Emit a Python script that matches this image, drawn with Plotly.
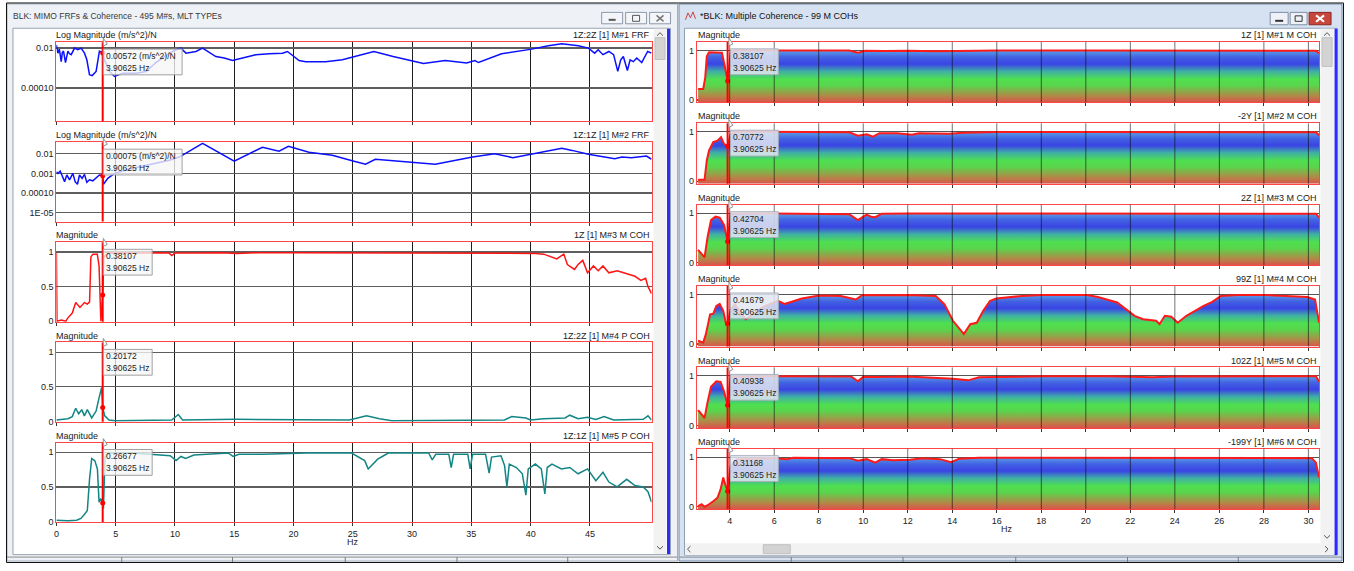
import plotly.graph_objects as go

# ---------------- data ----------------
CURSOR_HZ = 3.90625
LEFT_X_RANGE = [0.0, 50.2]
RIGHT_X_RANGE = [2.52, 30.48]
LEFT_X_TICKS = [0, 5, 10, 15, 20, 25, 30, 35, 40, 45]
RIGHT_X_TICKS = [4, 6, 8, 10, 12, 14, 16, 18, 20, 22, 24, 26, 28, 30]

# (Hz, (m/s^2)/N)
FRF_1Z2Z = [(0.00, 0.0146), (0.13, 0.0056), (0.25, 0.0089), (0.41, 0.0021), (0.50, 0.0060), (0.60, 0.0071),
            (0.77, 0.0019), (0.97, 0.0071), (1.10, 0.0052), (1.25, 0.0047), (1.53, 0.0100), (1.81, 0.0083),
            (2.09, 0.0100), (2.37, 0.0056), (2.57, 0.0026), (2.79, 0.00047), (3.02, 0.00042), (3.35, 0.00068),
            (3.63, 0.0071), (3.906, 0.00572), (4.05, 0.0026), (4.48, 0.00068), (4.90, 0.00038), (5.60, 0.00056),
            (6.72, 0.00056), (7.56, 0.00068), (8.40, 0.0019), (9.53, 0.0056), (10.09, 0.0083), (10.50, 0.0100),
            (10.93, 0.0056), (11.77, 0.0068), (12.33, 0.0100), (12.75, 0.0068), (13.45, 0.0038), (14.16, 0.0032),
            (14.86, 0.0024), (15.70, 0.0032), (16.82, 0.0047), (17.94, 0.0052), (19.07, 0.0056), (19.49, 0.0068),
            (20.05, 0.0038), (20.47, 0.0024), (21.03, 0.0021), (22.71, 0.0021), (24.12, 0.0026), (25.10, 0.0038),
            (26.78, 0.0068), (28.40, 0.0038), (30.10, 0.0021), (30.96, 0.0017), (32.80, 0.0024), (34.60, 0.0018),
            (35.30, 0.0024), (35.60, 0.0019), (37.55, 0.0052), (40.10, 0.0089), (41.50, 0.0132), (42.63, 0.0166),
            (44.03, 0.0132), (44.87, 0.0100), (45.40, 0.0056), (45.70, 0.0083), (46.10, 0.0047), (46.60, 0.0068),
            (47.00, 0.0047), (47.35, 0.00068), (47.60, 0.0026), (47.82, 0.0038), (48.16, 0.00076), (48.39, 0.0026),
            (48.66, 0.0021), (48.95, 0.0032), (49.37, 0.0019), (49.87, 0.0068), (50.20, 0.0056)]

FRF_1Z1Z = [(0.00, 0.00120), (0.13, 0.00100), (0.32, 0.00132), (0.49, 0.00068), (0.69, 0.00038), (0.88, 0.00083),
            (1.11, 0.00047), (1.39, 0.00100), (1.58, 0.00038), (1.78, 0.00028), (1.95, 0.00083), (2.17, 0.00056),
            (2.37, 0.00089), (2.57, 0.00035), (2.79, 0.00047), (3.07, 0.00042), (3.35, 0.00060), (3.63, 0.00083),
            (3.906, 0.00075), (3.97, 0.00028), (4.34, 0.00056), (4.90, 0.00100), (6.16, 0.00166), (8.12, 0.00316),
            (9.53, 0.00468), (10.37, 0.00676), (12.33, 0.0339), (15.00, 0.00417), (17.38, 0.0214), (18.78, 0.0135),
            (19.57, 0.0240), (21.30, 0.0120), (23.27, 0.00832), (25.10, 0.00417), (26.08, 0.00295), (26.90, 0.00525),
            (30.10, 0.00355), (31.96, 0.00295), (35.10, 0.00676), (36.97, 0.0100), (38.50, 0.00631), (40.10, 0.0100),
            (42.63, 0.0191), (43.50, 0.0148), (44.87, 0.00933), (47.10, 0.00562), (47.70, 0.00676), (48.50, 0.00631),
            (49.77, 0.00759), (50.20, 0.00525)]

# (Hz, magnitude)
MCOH_1Z_LEFT = [(0.00, 0.99), (0.05, 0.0), (0.42, 0.02), (0.79, 0.0), (0.97, 0.05), (1.34, 0.12), (1.63, 0.27),
                (1.99, 0.20), (2.36, 0.27), (2.61, 0.25), (2.80, 0.28), (2.91, 0.93), (3.09, 0.97), (3.45, 0.97),
                (3.60, 0.80), (3.75, 0.0), (3.906, 0.38107), (4.00, 0.93), (4.44, 0.99), (6.0, 0.985), (8.0, 0.99),
                (9.5, 0.985), (9.73, 0.95), (10.0, 0.985), (12.0, 0.985), (14.0, 0.99), (15.2, 0.98), (17.0, 0.99),
                (20.0, 0.99), (25.0, 0.99), (27.5, 0.98), (30.0, 0.985), (32.0, 0.98), (34.0, 0.985), (36.0, 0.98),
                (38.0, 0.985), (40.4, 0.98), (41.1, 0.97), (42.2, 0.90), (42.8, 0.97), (43.1, 0.82), (43.7, 0.75),
                (44.0, 0.82), (44.4, 0.88), (44.8, 0.70), (45.3, 0.80), (45.7, 0.73), (46.1, 0.80), (46.6, 0.70),
                (47.3, 0.73), (48.1, 0.69), (48.8, 0.65), (49.3, 0.59), (49.7, 0.62), (49.9, 0.50), (50.2, 0.40)]

PCOH_1Z2Z = [(0.00, 0.02), (0.97, 0.04), (1.34, 0.07), (1.63, 0.19), (1.88, 0.11), (2.14, 0.17), (2.36, 0.08),
             (2.61, 0.17), (2.98, 0.05), (3.35, 0.15), (3.60, 0.34), (3.82, 0.49), (3.906, 0.20172), (4.08, 0.08),
             (4.44, 0.02), (4.99, 0.01), (9.73, 0.02), (10.28, 0.10), (10.64, 0.02), (15.2, 0.03), (24.7, 0.02),
             (26.16, 0.08), (27.25, 0.04), (28.3, 0.01), (37.8, 0.02), (38.4, 0.07), (39.6, 0.05), (40.0, 0.02),
             (41.1, 0.04), (42.9, 0.05), (43.3, 0.09), (44.0, 0.04), (44.8, 0.06), (45.5, 0.03), (46.2, 0.07),
             (47.0, 0.02), (49.5, 0.03), (49.9, 0.08), (50.2, 0.02)]

PCOH_1Z1Z = [(0.00, 0.02), (0.97, 0.01), (1.70, 0.02), (2.07, 0.045), (2.36, 0.10), (2.61, 0.16), (2.80, 0.62),
             (2.98, 0.91), (3.24, 0.88), (3.46, 0.76), (3.60, 0.28), (3.75, 0.33), (3.906, 0.26677), (3.97, 0.19),
             (4.10, 0.93), (4.44, 0.99), (6.45, 0.99), (8.6, 0.97), (9.6, 0.95), (10.1, 0.88), (10.5, 0.94),
             (10.9, 0.91), (11.6, 0.96), (12.7, 0.97), (14.5, 0.99), (14.9, 0.94), (15.4, 0.97), (17.4, 0.97),
             (21.1, 0.99), (24.9, 0.99), (25.4, 0.94), (26.0, 0.88), (26.3, 0.76), (26.6, 0.81), (27.1, 0.90),
             (27.6, 0.95), (28.0, 0.99), (31.4, 0.99), (31.7, 0.89), (32.0, 0.97), (33.1, 0.97), (33.3, 0.78),
             (33.5, 0.97), (34.7, 0.97), (34.9, 0.76), (35.1, 0.97), (36.2, 0.97), (36.5, 0.70), (36.7, 0.93),
             (37.5, 0.95), (37.8, 0.81), (38.0, 0.50), (38.2, 0.83), (38.8, 0.78), (39.3, 0.69), (39.6, 0.38),
             (39.8, 0.76), (40.4, 0.83), (40.9, 0.76), (41.2, 0.40), (41.4, 0.78), (41.8, 0.83), (42.6, 0.76),
             (43.3, 0.78), (44.0, 0.69), (44.8, 0.76), (45.5, 0.59), (46.1, 0.71), (46.6, 0.57), (47.3, 0.50),
             (48.1, 0.61), (48.8, 0.52), (49.5, 0.50), (49.9, 0.43), (50.2, 0.28)]

MCOH_1Z = [(2.58, 0.22), (2.81, 0.22), (2.90, 0.45), (2.97, 0.88), (3.07, 0.96), (3.36, 0.96), (3.65, 0.95),
           (3.78, 0.68), (3.906, 0.38107), (4.04, 0.95), (4.23, 1.0), (6.0, 0.995), (8.0, 0.995), (9.37, 0.995),
           (9.76, 0.95), (10.1, 0.99), (11.0, 0.985), (12.0, 0.99), (13.26, 0.98), (14.0, 0.985), (16.0, 0.995),
           (20.0, 0.995), (24.0, 0.995), (28.0, 0.995), (30.34, 0.99), (30.48, 0.94)]

MCOH_M2Y = [(2.58, 0.03), (2.87, 0.03), (2.97, 0.42), (3.07, 0.62), (3.26, 0.79), (3.45, 0.82), (3.61, 0.89),
            (3.75, 0.75), (3.906, 0.70772), (4.04, 0.95), (4.33, 1.0), (6.0, 0.995), (9.37, 0.99), (9.76, 0.92),
            (10.15, 0.95), (10.44, 0.90), (10.73, 0.97), (11.5, 0.97), (12.19, 0.94), (12.5, 0.97), (13.84, 0.96),
            (14.5, 0.98), (16.0, 0.995), (20.0, 0.995), (25.0, 0.995), (30.34, 0.99), (30.48, 0.93)]

MCOH_2Z = [(2.58, 0.26), (2.74, 0.17), (2.87, 0.11), (3.01, 0.53), (3.16, 0.86), (3.36, 0.93), (3.55, 0.91),
           (3.75, 0.76), (3.906, 0.42704), (4.04, 0.99), (6.0, 0.995), (9.37, 0.98), (9.76, 0.86), (10.15, 0.97),
           (10.35, 0.93), (10.54, 0.92), (10.83, 0.99), (12.0, 0.995), (16.0, 0.995), (20.0, 0.99), (22.0, 0.985),
           (24.0, 0.995), (28.0, 0.995), (30.34, 0.99), (30.48, 0.91)]

MCOH_99Z = [(2.58, 0.07), (2.81, 0.03), (2.93, 0.20), (3.12, 0.60), (3.26, 0.61), (3.40, 0.77), (3.55, 0.81),
            (3.71, 0.67), (3.84, 0.40), (3.906, 0.41679), (4.04, 0.70), (4.23, 0.80), (4.72, 0.50), (5.5, 0.75),
            (6.17, 0.87), (6.46, 0.81), (6.75, 0.85), (7.24, 0.92), (8.02, 0.98), (8.99, 0.97), (9.67, 0.90),
            (9.96, 0.99), (11.0, 0.985), (12.0, 0.99), (13.26, 0.97), (13.65, 0.80), (14.03, 0.47), (14.32, 0.30),
            (14.52, 0.20), (14.81, 0.40), (15.10, 0.43), (15.39, 0.67), (15.69, 0.87), (15.97, 0.92), (17.14, 0.97),
            (18.0, 0.99), (20.05, 0.99), (20.54, 0.95), (21.41, 0.84), (21.9, 0.67), (22.19, 0.57), (22.57, 0.50),
            (23.16, 0.47), (23.31, 0.40), (23.55, 0.57), (23.84, 0.55), (24.13, 0.43), (24.52, 0.57), (24.9, 0.67),
            (25.29, 0.77), (25.68, 0.85), (26.07, 0.97), (26.85, 0.99), (28.0, 0.99), (29.95, 0.95), (30.3, 0.90),
            (30.48, 0.43)]

MCOH_102Z = [(2.58, 0.31), (2.74, 0.21), (2.87, 0.15), (3.01, 0.48), (3.16, 0.78), (3.40, 0.89), (3.59, 0.88),
             (3.75, 0.68), (3.906, 0.40938), (4.04, 0.98), (6.0, 0.99), (9.47, 0.985), (9.76, 0.89), (10.0, 0.98),
             (10.54, 0.975), (12.0, 0.985), (13.65, 0.95), (14.03, 0.94), (14.71, 0.91), (15.2, 0.97), (18.0, 0.99),
             (21.02, 0.99), (23.0, 0.97), (24.0, 0.985), (28.0, 0.99), (30.34, 0.99), (30.48, 0.88)]

MCOH_M199Y = [(2.58, 0.01), (2.74, 0.05), (2.87, 0.0), (3.01, 0.03), (3.26, 0.11), (3.45, 0.18), (3.59, 0.35),
              (3.71, 0.59), (3.80, 0.45), (3.906, 0.31168), (4.04, 0.82), (4.33, 0.96), (6.07, 0.98), (6.56, 0.96),
              (6.85, 0.99), (9.37, 0.98), (9.76, 0.93), (10.15, 0.96), (10.54, 0.89), (10.83, 0.96), (11.32, 0.94),
              (12.09, 0.95), (12.68, 0.98), (13.45, 0.96), (13.94, 0.90), (14.32, 0.97), (15.2, 0.99), (20.0, 0.99),
              (25.0, 0.99), (30.15, 0.98), (30.34, 0.89), (30.48, 0.59)]

LEFT_NAMES = ["Log Magnitude (m/s^2)/N", "Log Magnitude (m/s^2)/N", "Magnitude", "Magnitude", "Magnitude"]
LEFT_IDS = ["1Z:2Z [1] M#1 FRF", "1Z:1Z [1] M#2 FRF", "1Z [1] M#3 M COH", "1Z:2Z [1] M#4 P COH", "1Z:1Z [1] M#5 P COH"]
LEFT_CURSOR_VALUES = [0.00572, 0.00075, 0.38107, 0.20172, 0.26677]
LEFT_CURSOR_TEXT = ["0.00572 (m/s^2)/N", "0.00075 (m/s^2)/N", "0.38107", "0.20172", "0.26677"]
LOG1_TICKS, LOG1_TEXT = [0.01, 0.0001], ["0.01", "0.00010"]
LOG2_TICKS, LOG2_TEXT = [0.01, 0.001, 0.0001, 0.00001], ["0.01", "0.001", "0.00010", "1E-05"]
COH_TICKS, COH_TEXT = [0, 0.5, 1], ["0", "0.5", "1"]
RIGHT_IDS = ["1Z [1] M#1 M COH", "-2Y [1] M#2 M COH", "2Z [1] M#3 M COH", "99Z [1] M#4 M COH",
             "102Z [1] M#5 M COH", "-199Y [1] M#6 M COH"]
RIGHT_CURSOR_VALUES = [0.38107, 0.70772, 0.42704, 0.41679, 0.40938, 0.31168]
RIGHT_TICKS, RIGHT_TEXT = [0, 1], ["0", "1"]

# ---------------- styling / geometry ----------------
W, H = 1354, 571
FONT = "Liberation Sans"
BOX_RED = "#ff4646"
BLUE = "#0a10ff"
RED = "#ff1414"
TEAL = "#138585"

LEFT_X0, LEFT_X1 = 53.5, 650.0
RIGHT_X0, RIGHT_X1 = 695.3, 1319.0
LEFT_TOPS = [42.5, 143.5, 244.5, 345.5, 446.5]
LEFT_H = 80
RIGHT_TOPS = [42.3, 124.4, 206.6, 288.6, 370.7, 452.7]
RIGHT_H = 61
RIGHT_YMIN = -0.05


def X(p):
    return p / W


def Y(p):
    return 1 - p / H


def suf(i):
    return "" if i == 1 else str(i)


shapes, annotations = [], []


def rect(x0, y0, x1, y1, fill=None, line=None, lw=1, layer="below"):
    d = dict(type="rect", xref="paper", yref="paper", x0=X(x0), x1=X(x1), y0=Y(y1), y1=Y(y0), layer=layer,
             line=dict(color=line if line else "rgba(0,0,0,0)", width=lw if line else 0))
    if fill:
        d["fillcolor"] = fill
    shapes.append(d)


def seg(x0, y0, x1, y1, color, lw=1, layer="below"):
    shapes.append(dict(type="line", xref="paper", yref="paper", x0=X(x0), x1=X(x1), y0=Y(y0), y1=Y(y1),
                       layer=layer, line=dict(color=color, width=lw)))


def path(points, color, lw=1, layer="below", fill=None, close=False):
    p = "M " + " L ".join(f"{X(a):.5f},{Y(b):.5f}" for a, b in points) + (" Z" if close else "")
    d = dict(type="path", xref="paper", yref="paper", path=p, layer=layer, line=dict(color=color, width=lw))
    if fill:
        d["fillcolor"] = fill
    shapes.append(d)


def text(x, y, s, size=9, color="#222", anchor="left"):
    if anchor == "left":
        x -= 3
    annotations.append(dict(xref="paper", yref="paper", x=X(x), y=Y(y), text=s, showarrow=False,
                            xanchor=anchor, yanchor="middle", borderpad=0,
                            font=dict(family=FONT, size=size, color=color)))


# ---------------- window chrome ----------------
rect(4, 4, 676, 566, fill="#eef1f6", line="#a3adbb")
rect(10, 28.5, 669, 559.5, fill="white", line="#9aa3ae")
rect(677.5, 4, 1342, 566, fill="#d6e2f1", line="#6f85a3")
rect(683, 28.5, 1337, 560, fill="white", line="#8fa0b5")
shapes.append(dict(type="rect", xref="paper", yref="paper", x0=X(3.5), x1=X(1343.5), y0=Y(567.5), y1=Y(3),
                   layer="below", line=dict(color="#111", width=1)))
seg(4, 562, 676, 562, "#8a8a8a")
seg(678, 562, 1342, 562, "#8a8a8a")
for sx in [119, 230, 343, 455, 566, 790, 902, 1015, 1127, 1238]:
    seg(sx, 562, sx, 567, "#7a7a7a")

text(12, 16, "BLK: MIMO FRFs & Coherence - 495 M#s, MLT TYPEs", size=8.5, color="#3a3a3a")
text(701, 16, "*BLK: Multiple Coherence - 99 M COHs", size=9, color="#111")
path([(684, 20), (686.5, 13), (689, 18), (691.5, 12), (694, 19)], "#d04040", 1)

for bx0, bx1 in [(600, 621), (624, 645), (648, 669)]:
    rect(bx0, 12.5, bx1, 24, fill="#f3f5f8", line="#8d99aa")
seg(607, 20, 614, 20, "#555", 2)
rect(631, 15.5, 638, 21.5, line="#555", lw=1)
seg(655, 15.5, 662, 21.5, "#777", 1.5)
seg(655, 21.5, 662, 15.5, "#777", 1.5)
rect(1270, 12.5, 1288, 25, fill="#eef2f8", line="#7d8ea6")
rect(1290, 12.5, 1307, 25, fill="#eef2f8", line="#7d8ea6")
rect(1309, 12.5, 1331, 25, fill="#c8473d", line="#8a2a22")
seg(1275, 21, 1283, 21, "#333", 2)
rect(1295, 16, 1302, 21.5, line="#333", lw=1)
seg(1316, 15.5, 1324, 22, "white", 2)
seg(1316, 22, 1324, 15.5, "white", 2)

# scrollbars
rect(652, 29, 665, 559, fill="#f2f2f2")
rect(653.5, 38, 663.5, 60, fill="#d3d3d3", line="#c0c0c0")
path([(655.5, 36), (658.5, 33), (661.5, 36)], "#555", 1)
path([(655.5, 551), (658.5, 554), (661.5, 551)], "#555", 1)
rect(665.5, 29, 668.5, 559, fill="#2b2bff")
rect(1320.5, 29, 1334, 548, fill="#f2f2f2")
rect(1322, 38, 1332, 67, fill="#d3d3d3", line="#c0c0c0")
path([(1324, 36), (1327, 33), (1330, 36)], "#555", 1)
path([(1324, 540), (1327, 543), (1330, 540)], "#555", 1)
rect(683.5, 548, 1334, 560, fill="#f2f2f2")
rect(762, 549.5, 789, 558.5, fill="#d3d3d3", line="#c0c0c0")
path([(689, 551), (686, 554), (689, 557)], "#555", 1)
path([(1325, 551), (1328, 554), (1325, 557)], "#555", 1)
rect(1334.5, 29, 1337.5, 560, fill="#2b2bff")

# ---------------- plots ----------------
fig = go.Figure()
layout_axes = {}
tickfont = dict(family=FONT, size=9, color="#222")

left_series = [FRF_1Z2Z, FRF_1Z1Z, MCOH_1Z_LEFT, PCOH_1Z2Z, PCOH_1Z1Z]
left_colors = [BLUE, BLUE, RED, TEAL, TEAL]
left_yaxes = [
    dict(type="log", range=[-5.67, -1.70], tickvals=LOG1_TICKS, ticktext=LOG1_TEXT),
    dict(type="log", range=[-5.45, -1.415], tickvals=LOG2_TICKS, ticktext=LOG2_TEXT),
    dict(type="linear", range=[-0.005, 1.14], tickvals=COH_TICKS, ticktext=COH_TEXT),
    dict(type="linear", range=[-0.005, 1.14], tickvals=COH_TICKS, ticktext=COH_TEXT),
    dict(type="linear", range=[-0.005, 1.14], tickvals=COH_TICKS, ticktext=COH_TEXT),
]

for k in range(5):
    i = k + 1
    s = suf(i)
    top = LEFT_TOPS[k]
    layout_axes["xaxis" + s] = dict(
        domain=[X(LEFT_X0), X(LEFT_X1)], range=LEFT_X_RANGE, anchor="y" + s, tickvals=LEFT_X_TICKS,
        showticklabels=(k == 4), ticks="outside", ticklen=3, tickcolor="#333", showgrid=True,
        gridcolor="#1e1e1e", gridwidth=1, showline=True, linecolor=BOX_RED, linewidth=1, mirror=True,
        zeroline=False, tickfont=tickfont, fixedrange=True)
    ya = dict(domain=[Y(top + LEFT_H), Y(top)], anchor="x" + s, showgrid=True, gridcolor="#5e5e5e",
              gridwidth=1.3, showline=True, linecolor=BOX_RED, linewidth=1, mirror=True, zeroline=False,
              ticks="", tickfont=tickfont, fixedrange=True)
    ya.update(left_yaxes[k])
    layout_axes["yaxis" + s] = ya
    pts = left_series[k]
    fig.add_trace(go.Scatter(x=[p[0] for p in pts], y=[p[1] for p in pts], mode="lines",
                             line=dict(color=left_colors[k], width=1.5), xaxis="x" + s, yaxis="y" + s,
                             showlegend=False, hoverinfo="skip"))
    # cursor
    shapes.append(dict(type="line", xref="x" + s, yref="y" + s + " domain", x0=CURSOR_HZ, x1=CURSOR_HZ,
                       y0=0, y1=1, layer="above", line=dict(color="#ff0000", width=2)))
    fig.add_trace(go.Scatter(x=[CURSOR_HZ], y=[LEFT_CURSOR_VALUES[k]], mode="markers",
                             marker=dict(color="#ff0000", size=5), xaxis="x" + s, yaxis="y" + s,
                             showlegend=False, hoverinfo="skip"))
    bw = 179.5 if k < 2 else 149.5
    rect(100.5, top + 7, bw, top + 33, fill="rgba(246,246,246,0.78)", line="#a0a0a0", layer="above")
    path([(100.5, top - 4), (100.5, top + 4), (104.5, top + 2)], "#909090", 1, layer="above",
         fill="white", close=True)
    text(105.5, top + 14, LEFT_CURSOR_TEXT[k], size=8.5)
    text(105.5, top + 26, f"{CURSOR_HZ:.5f} Hz", size=8.5)
    text(55.5, top - 7, LEFT_NAMES[k])
    text(649, top - 7, LEFT_IDS[k], anchor="right")

text(351, 547, "Hz", anchor="center")

right_series = [MCOH_1Z, MCOH_M2Y, MCOH_2Z, MCOH_99Z, MCOH_102Z, MCOH_M199Y]
GRADIENT = [[0.0, "#df4f4a"], [0.14, "#b08a48"], [0.33, "#5ad44c"], [0.45, "#4fe04f"],
            [0.60, "#3fb0a4"], [0.74, "#3a44e4"], [0.87, "#4262e2"], [1.0, "#5aa0e8"]]

for k in range(6):
    i = k + 6
    s = suf(i)
    top = RIGHT_TOPS[k]
    layout_axes["xaxis" + s] = dict(
        domain=[X(RIGHT_X0), X(RIGHT_X1)], range=RIGHT_X_RANGE, anchor="y" + s, tickvals=RIGHT_X_TICKS,
        showticklabels=(k == 5), ticks="outside", ticklen=3, tickcolor="#333", showgrid=False,
        showline=True, linecolor=BOX_RED, linewidth=1, mirror=True, zeroline=False, tickfont=tickfont,
        fixedrange=True)
    layout_axes["yaxis" + s] = dict(
        domain=[Y(top + RIGHT_H), Y(top)], anchor="x" + s, range=[RIGHT_YMIN, 1.17], tickvals=RIGHT_TICKS,
        ticktext=RIGHT_TEXT, showgrid=True, gridcolor="#555", gridwidth=1.2, showline=True, linecolor=BOX_RED,
        linewidth=1, mirror=True, zeroline=False, ticks="", tickfont=tickfont, fixedrange=True)
    pts = right_series[k]
    xs = [p[0] for p in pts]
    fig.add_trace(go.Scatter(x=xs, y=[RIGHT_YMIN] * len(xs), mode="lines", line=dict(width=0),
                             xaxis="x" + s, yaxis="y" + s, showlegend=False, hoverinfo="skip"))
    fig.add_trace(go.Scatter(x=xs, y=[p[1] for p in pts], mode="lines", fill="tonexty",
                             fillgradient=dict(type="vertical", colorscale=GRADIENT, start=RIGHT_YMIN, stop=1.0),
                             line=dict(color="#ff1a1a", width=2), xaxis="x" + s, yaxis="y" + s,
                             showlegend=False, hoverinfo="skip"))
    for t in RIGHT_X_TICKS:
        shapes.append(dict(type="line", xref="x" + s, yref="y" + s + " domain", x0=t, x1=t, y0=0, y1=1,
                           layer="above", line=dict(color="rgba(0,0,0,0.55)", width=1)))
    shapes.append(dict(type="line", xref="x" + s, yref="y" + s + " domain", x0=CURSOR_HZ, x1=CURSOR_HZ,
                       y0=0, y1=1, layer="above", line=dict(color="#ff0000", width=2)))
    fig.add_trace(go.Scatter(x=[CURSOR_HZ], y=[RIGHT_CURSOR_VALUES[k]], mode="markers",
                             marker=dict(color="#ff0000", size=5), xaxis="x" + s, yaxis="y" + s,
                             showlegend=False, hoverinfo="skip"))
    rect(729, top + 7, 777, top + 33, fill="rgba(226,232,241,0.85)", line="#a8b0bc", layer="above")
    path([(727.5, top - 4), (727.5, top + 4), (731.5, top + 2)], "#909090", 1, layer="above",
         fill="white", close=True)
    text(734, top + 14, f"{RIGHT_CURSOR_VALUES[k]:.5f}", size=8.5)
    text(734, top + 26, f"{CURSOR_HZ:.5f} Hz", size=8.5)
    text(699, top - 7, "Magnitude")
    text(1318, top - 7, RIGHT_IDS[k], anchor="right")

text(1006, 534, "Hz", anchor="center")

fig.update_layout(
    width=W, height=H, margin=dict(l=0, r=0, t=0, b=0), paper_bgcolor="white",
    plot_bgcolor="rgba(0,0,0,0)", showlegend=False, shapes=shapes, annotations=annotations,
    font=dict(family=FONT, size=9, color="#222"), **layout_axes)

fig.write_html("out.html", config={"displayModeBar": False, "staticPlot": True},
               post_script="document.body.style.margin='0';document.body.style.overflow='hidden';")
